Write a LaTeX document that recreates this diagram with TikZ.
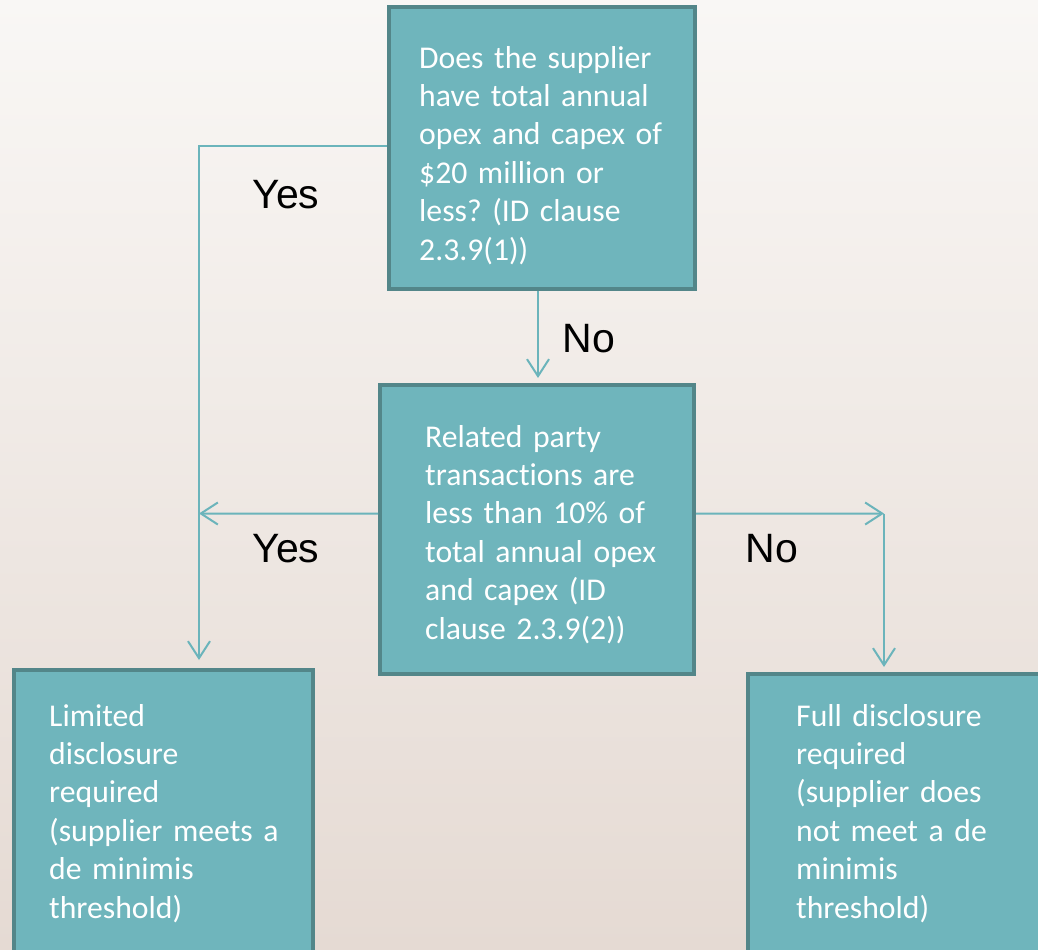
\documentclass[tikz,border=0pt]{standalone}
\usepackage{fontspec}
\setmainfont{Carlito}[Ligatures=NoCommon]
\newfontfamily\arialf{Liberation Sans}
\usetikzlibrary{arrows.meta}
\definecolor{bgtop}{RGB}{249,247,245}
\definecolor{bgbot}{RGB}{229,218,211}
\definecolor{boxfill}{RGB}{111,181,188}
\definecolor{boxline}{RGB}{83,134,137}
\definecolor{conncol}{RGB}{107,180,187}
\newcommand\mybxfont{\fontsize{31.7bp}{38.4bp}\selectfont\frenchspacing\setlength{\spaceskip}{0.19em}}
\tikzset{
  box/.style={draw=boxline, fill=boxfill, line width=4bp, rectangle, inner sep=0pt},
  boxtext/.style={anchor=base west, inner sep=0pt, text=white, align=left, text width=300bp,
    font=\mybxfont},
  conn/.style={draw=conncol, line width=2bp, -{Straight Barb[length=17bp,width=22bp,line width=2bp]}},
  lbl/.style={anchor=base, inner sep=0pt, text=black, font=\arialf\fontsize{41bp}{49bp}\selectfont}
}
\begin{document}
\begin{tikzpicture}[x=1bp,y=-1bp]
\useasboundingbox (0,0) rectangle (1038,950);
\shade[top color=bgtop, bottom color=bgbot] (0,0) rectangle (1038,950);

% boxes
\node[box, minimum width=306bp, minimum height=282bp] (b1) at (542,148) {};
\node[box, minimum width=314bp, minimum height=289bp] (b2) at (537,529.5) {};
\node[box, minimum width=299bp, minimum height=310bp] (b3) at (163.5,825) {};
\node[box, minimum width=312bp, minimum height=306bp] (b4) at (904,827) {};

% texts
\node[boxtext] (t1) at (419,68) {Does the supplier\\have total annual\\opex and capex of\\\$20 million or\\less? (ID clause\\2.3.9(1))};
\node[boxtext] (t2) at (425,447) {Related party\\transactions are\\less than 10\% of\\total annual opex\\and capex (ID\\clause 2.3.9(2))};
\node[boxtext] (t3) at (49,726) {Limited\\disclosure\\required\\(supplier meets a\\de minimis\\threshold)};
\node[boxtext] (t4) at (796,726) {Full disclosure\\required\\(supplier does\\not meet a de\\minimis\\threshold)};

% helper coordinates
\coordinate (yx) at (199,0);
\coordinate (nx) at (538,0);
\coordinate (corner) at (884,513.5);

% connectors
\draw[conn, shorten >=8bp] ([yshift=2bp]b1.west) -| (yx |- b3.north);
\draw[conn] ([yshift=16bp]b2.west) -- (yx |- corner);
\draw[conn] ([yshift=16bp]b2.east) -- (corner);
\draw[conn, shorten >=5bp] (corner) -- (corner |- b4.north);
\draw[conn, shorten >=5bp] (nx |- b1.south) -- (nx |- b2.north);

% labels
\node[lbl] (y1) at (286,208) {Yes};
\node[lbl] (y2) at (286,562) {Yes};
\node[lbl] (n1) at (589,352) {No};
\node[lbl] (n2) at (772,562) {No};
\end{tikzpicture}
\end{document}
